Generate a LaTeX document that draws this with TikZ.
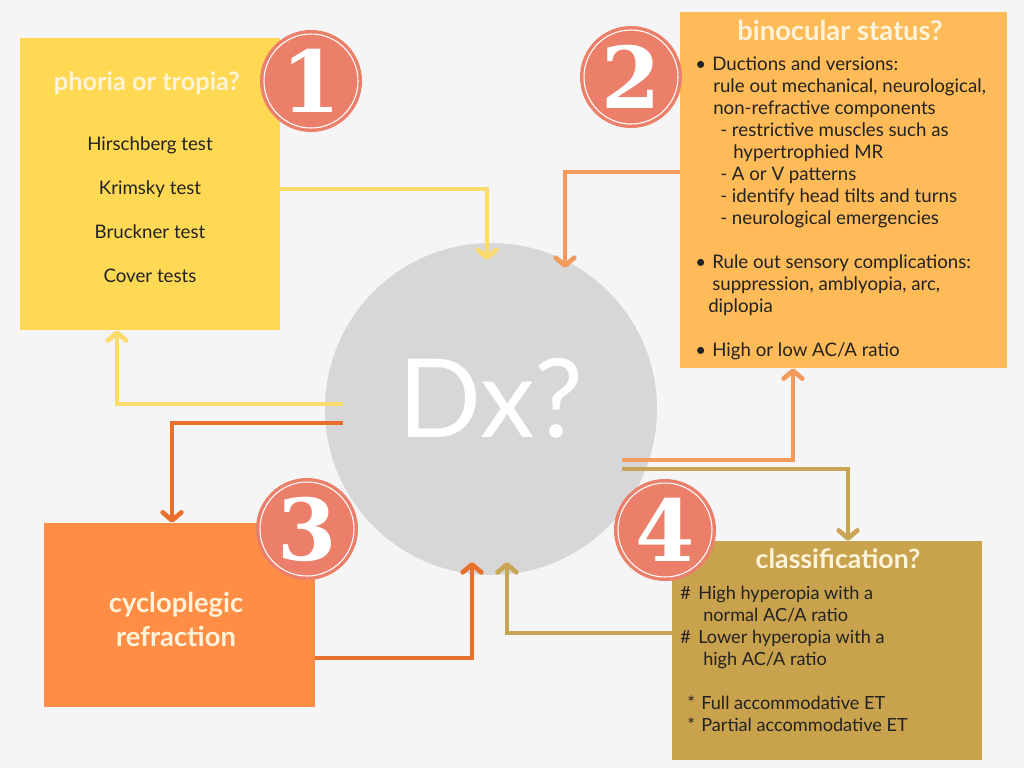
\documentclass[tikz,border=0pt]{standalone}
\usepackage{fontspec}
\setmainfont{Lato}
\newfontfamily\numfont{DejaVu Serif}
\usetikzlibrary{arrows.meta}

\definecolor{bgc}{HTML}{F5F5F5}
\definecolor{ylwbox}{HTML}{FFD954}
\definecolor{orgbox}{HTML}{FFBB58}
\definecolor{drkbox}{HTML}{FF8D45}
\definecolor{gldbox}{HTML}{C9A24D}
\definecolor{dxgray}{HTML}{D7D7D7}
\definecolor{salmon}{HTML}{EC7F6A}
\definecolor{ylwline}{HTML}{FCDC6E}
\definecolor{orgline}{HTML}{F39A5D}
\definecolor{drkline}{HTML}{E8702A}
\definecolor{gldline}{HTML}{C8A552}
\definecolor{ink}{HTML}{222222}
\definecolor{cream}{HTML}{FFF4D9}

\newcommand\itembul{\makebox[12.75pt][l]{\textbullet}}
\newcommand\itemhash{\makebox[13.5pt][l]{\#}}
\newcommand\itemstar{\hspace*{5.25pt}\makebox[10.5pt][l]{*}}

\begin{document}
\begin{tikzpicture}[x=0.75pt, y=-0.75pt,
    box/.style={rectangle, inner sep=0pt},
    title/.style={text=cream, inner sep=0pt, font=\fontsize{#1}{25.5}\selectfont\bfseries},
    body/.style={text=ink, inner sep=0pt, align=left, font=\fontsize{14}{16.5}\selectfont},
    num/.style={circle, fill=salmon, draw=salmon, double=white, double distance=0.8pt,
      line width=2.6pt, minimum size=70.5pt, inner sep=0pt, text=white,
      font=\numfont\bfseries\fontsize{64}{64}\selectfont},
    link/.style={line width=3.5pt, -{Straight Barb[length=6pt, width=14pt, round]}}]
    \useasboundingbox (0,0) rectangle (1024,768);
    \fill[bgc] (0,0) rectangle (1024,768);

    \node[circle, fill=dxgray, minimum size=249pt, inner sep=0pt] (dx) at (491,409) {};
    \node[anchor=base, text=white, inner sep=0pt, font=\fontsize{82}{82}\selectfont] (dxlabel) at (491,437) {Dx?};

    \node[box, fill=ylwbox, minimum width=195pt, minimum height=219pt] (box1) at (150,184) {};
    \node[box, fill=orgbox, minimum width=245.25pt, minimum height=267pt] (box2) at (843.5,190) {};
    \node[box, fill=drkbox, minimum width=203.25pt, minimum height=138pt] (box3) at (179.5,615) {};
    \node[box, fill=gldbox, minimum width=232.5pt, minimum height=164.25pt] (box4) at (827,650.5) {};

    \node[title=19, anchor=base] (title1) at (147,90) {phoria or tropia?};
    \node[body, align=center, anchor=north, font=\fontsize{14}{33}\selectfont] (tests) at (150,136)
      {Hirschberg test\\Krimsky test\\Bruckner test\\Cover tests};

    \node[title=20.5, anchor=base] (title2) at (840,40) {binocular status?};
    \node[body, anchor=north west] (status) at (695,56) {%
      \itembul Ductions and versions:\\
      \hspace*{13.5pt}rule out mechanical, neurological,\\
      \hspace*{13.5pt}non-refractive components\\
      \hspace*{18.75pt}- restrictive muscles such as\\
      \hspace*{28.5pt}hypertrophied MR\\
      \hspace*{18.75pt}- A or V patterns\\
      \hspace*{18.75pt}- identify head tilts and turns\\
      \hspace*{18.75pt}- neurological emergencies\\[16.5pt]
      \itembul Rule out sensory complications:\\
      \hspace*{12.75pt}suppression, amblyopia, arc,\\
      \hspace*{9.75pt}diplopia\\[16.5pt]
      \itembul High or low AC/A ratio};

    \node[title=20.5, align=center, anchor=north] (title3) at (176,592) {cycloplegic\\refraction};

    \node[title=20, anchor=base] (title4) at (838,568) {classification?};
    \node[body, anchor=north west, font=\fontsize{13.6}{16.5}\selectfont] (types) at (680,586) {%
      \itemhash High hyperopia with a\\
      \hspace*{17.25pt}normal AC/A ratio\\
      \itemhash Lower hyperopia with a\\
      \hspace*{17.25pt}high AC/A ratio\\[16.5pt]
      \itemstar Full accommodative ET\\
      \itemstar Partial accommodative ET};

    \node[num] (n1) at (311,81) {1};
    \node[num] (n2) at (631,77) {2};
    \node[num] (n3) at (307,529) {3};
    \node[num] (n4) at (665,530) {4};

    \coordinate (ya) at (487,260);
    \coordinate (yb) at (343,404);
    \coordinate (oc) at (565,268);
    \coordinate (dd) at (343,423);
    \coordinate (de) at (472,562);
    \coordinate (gf) at (507,562);
    \coordinate (og) at (622,460);
    \coordinate (gh) at (622,469);

    \draw[link, ylwline] ([yshift=-3.75pt]box1.east) -| (ya);
    \draw[link, ylwline] (yb) -| ([xshift=-24.75pt]box1.south);
    \draw[link, orgline] ([yshift=13.5pt]box2.west) -| (oc);
    \draw[link, drkline] (dd) -| ([xshift=-5.6pt]box3.north);
    \draw[link, drkline] ([yshift=-32.25pt]box3.east) -| (de);
    \draw[link, gldline] ([yshift=13.1pt]box4.west) -| (gf);
    \draw[link, orgline] (og) -| ([xshift=-37.9pt]box2.south);
    \draw[link, gldline] (gh) -| ([xshift=15.75pt]box4.north);
  \end{tikzpicture}
\end{document}
